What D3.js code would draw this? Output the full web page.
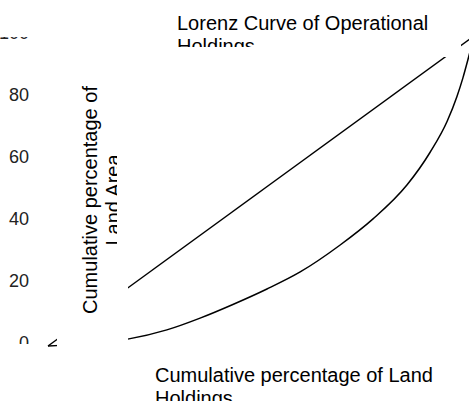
<!DOCTYPE html>
<html>
<head>
<meta charset="utf-8">
<script src="https://cdn.jsdelivr.net/npm/d3@7"></script>
<style>
  body { margin: 0; background: #fff; }
  text { font-family: "Liberation Sans", Arial, sans-serif; }
</style>
</head>
<body>
<script>
// chart data (cumulative % of holdings vs cumulative % of area)
var holdingsPct = [0, 19, 27.9, 35.7, 43.4, 51.4, 59.2, 68.5, 76.3, 84.3, 89.7, 93.7, 96.0, 97.4, 98.6, 100];
var areaPct     = [0, 2.3, 5.2, 9.0, 13.4, 18.4, 23.9, 32.5, 41.0, 52.0, 62.5, 72.5, 80.5, 86.5, 92.5, 100];
var equality    = [0, 100];
var yTicks      = [0, 20, 40, 60, 80, 100];

var titleLines  = ["Lorenz Curve of Operational", "Holdings"];
var yTitleLines = ["Cumulative percentage of", "Land Area"];
var xTitleLines = ["Cumulative percentage of Land", "Holdings"];

var width = 469, height = 401;

var svg = d3.select("body").append("svg")
    .attr("width", width)
    .attr("height", height);

// scales
var x = d3.scaleLinear().domain([0, 100]).range([48, 474]);
var y = d3.scaleLinear().domain([0, 100]).range([346, 36]);

var defs = svg.append("defs");
defs.append("clipPath").attr("id", "tickClip")
  .append("rect").attr("x", 0).attr("y", 37).attr("width", 45).attr("height", 307);
defs.append("clipPath").attr("id", "titleClip")
  .append("rect").attr("x", 160).attr("y", 0).attr("width", 300).attr("height", 47);
defs.append("clipPath").attr("id", "yTitleClip")
  .append("rect").attr("x", 57).attr("y", 60).attr("width", 60).attr("height", 295);

// y tick labels only (clip on outer group, axis inside)
var yAxis = svg.append("g")
    .attr("clip-path", "url(#tickClip)")
  .append("g")
    .attr("transform", "translate(29,-3)")
    .call(d3.axisLeft(y).tickValues(yTicks).tickSize(0).tickPadding(0));
yAxis.select(".domain").remove();
yAxis.selectAll("text")
    .style("font-size", "18px")
    .style("font-family", "'Liberation Sans', Arial, sans-serif")
    .attr("fill", "#222");

// lines
var line = d3.line()
    .x(function(d) { return x(d[0]); })
    .y(function(d) { return y(d[1]); })
    .curve(d3.curveMonotoneX);

svg.append("path")
    .datum(equality.map(function(v) { return [v, v]; }))
    .attr("d", line)
    .attr("fill", "none")
    .attr("stroke", "#000")
    .attr("stroke-width", 1.5);

svg.append("path")
    .datum(holdingsPct.map(function(v, i) { return [v, areaPct[i]]; }))
    .attr("d", line)
    .attr("fill", "none")
    .attr("stroke", "#000")
    .attr("stroke-width", 1.5);

// white boxes behind titles
svg.append("rect").attr("x", 57).attr("y", 60).attr("width", 71).attr("height", 295).attr("fill", "#fff");
svg.append("rect").attr("x", 160).attr("y", 0).attr("width", 301).attr("height", 57).attr("fill", "#fff");

// chart title
svg.append("g").attr("clip-path", "url(#titleClip)")
  .selectAll("text").data(titleLines).enter().append("text")
    .attr("x", 177)
    .attr("y", function(d, i) { return 29.5 + i * 23; })
    .style("font-size", "20px")
    .attr("fill", "#000")
    .text(function(d) { return d; });

// y axis title
svg.append("g").attr("clip-path", "url(#yTitleClip)")
  .append("g").attr("transform", "translate(96.5,200) rotate(-90)")
  .selectAll("text").data(yTitleLines).enter().append("text")
    .attr("x", 0)
    .attr("y", function(d, i) { return i * 23; })
    .attr("text-anchor", "middle")
    .style("font-size", "20px")
    .attr("fill", "#000")
    .text(function(d) { return d; });

// x axis title
svg.append("g")
  .selectAll("text").data(xTitleLines).enter().append("text")
    .attr("x", 155)
    .attr("y", function(d, i) { return 381.5 + i * 23; })
    .style("font-size", "20px")
    .attr("fill", "#000")
    .text(function(d) { return d; });
</script>
</body>
</html>
